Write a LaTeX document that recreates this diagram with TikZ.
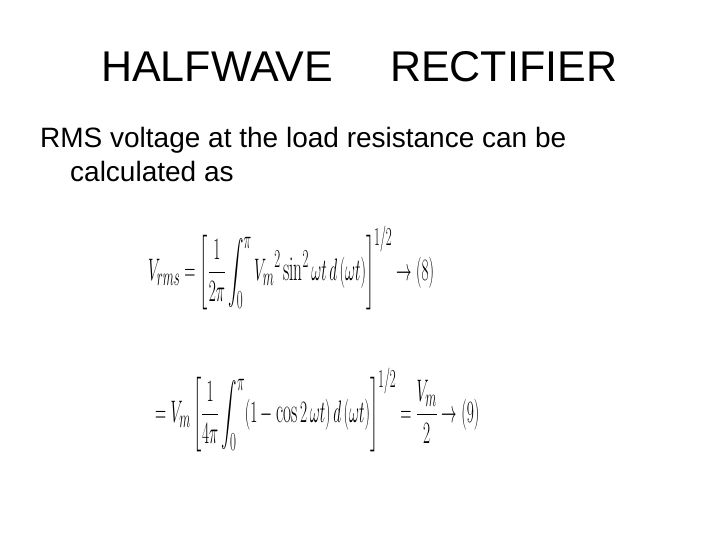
\documentclass[tikz,border=0pt]{standalone}
\usepackage{fontspec}
\usepackage{amsmath}
\setmainfont{Liberation Sans}
\newfontfamily\lmr{Latin Modern Roman}
\newcommand{\msin}{\mathop{\mbox{\lmr sin}}\nolimits}
\newcommand{\mcos}{\mathop{\mbox{\lmr cos}}\nolimits}
\begin{document}
\begin{tikzpicture}[x=1pt,y=1pt,
  txt/.style={anchor=base west,inner sep=0pt},
  eq/.style={anchor=west,inner sep=0pt,xscale=0.62,yscale=1.25,font=\fontsize{28}{32}\selectfont}]
\useasboundingbox (0,0) rectangle (720,-540);
\fill[white] (0,0) rectangle (720,-540);
\node[txt,font=\fontsize{43}{47}\selectfont] (t1) at (101,-82) {HALFWAVE};
\node[txt,font=\fontsize{43}{47}\selectfont] (t2) at (390,-82) {RECTIFIER};
\node[txt,font=\fontsize{28}{32}\selectfont] (b1) at (40,-148) {RMS voltage at the load resistance can be};
\node[txt,font=\fontsize{28}{32}\selectfont] (b2) at (70,-182) {calculated as};
\node[eq] (e1) at (148,-268) {$V_{rms}=\left[\dfrac{1}{2\pi}\displaystyle\int_0^{\pi} {V_m}^2\msin^2\omega t\,d\left(\omega t\right)\right]^{1/2}\rightarrow(8)$};
\node[eq] (e2) at (155,-410) {$=V_m\left[\dfrac{1}{4\pi}\displaystyle\int_0^{\pi}(1-\mcos 2\,\omega t)\,d\left(\omega t\right)\right]^{1/2}=\dfrac{V_m}{2}\rightarrow(9)$};
\end{tikzpicture}
\end{document}
